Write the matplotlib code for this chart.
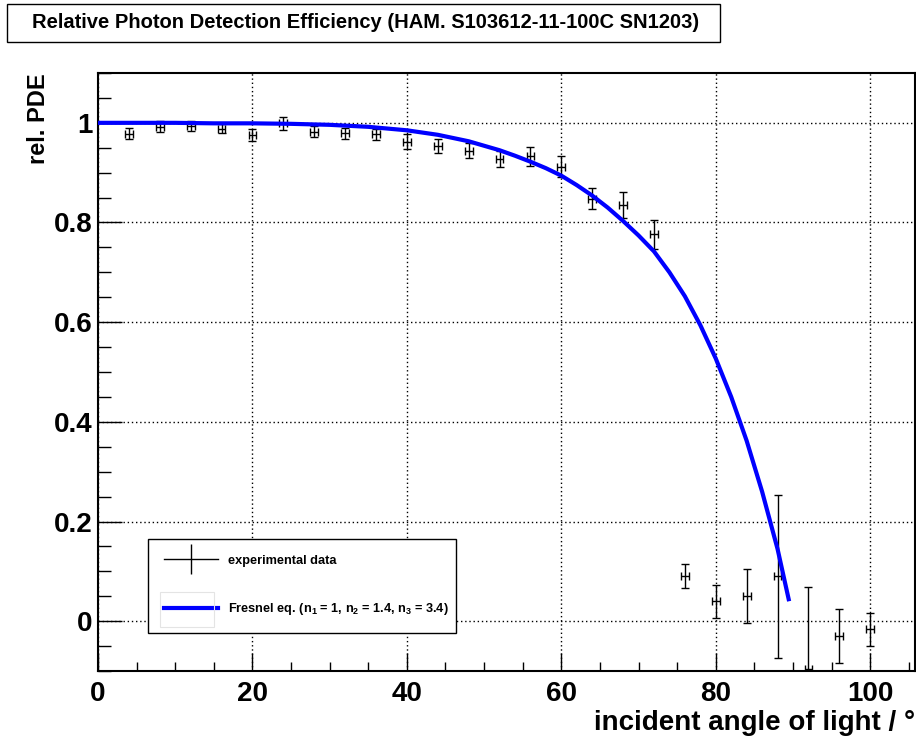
import matplotlib
matplotlib.use("Agg")
import matplotlib.pyplot as plt
from matplotlib.lines import Line2D
from matplotlib.patches import Rectangle
from matplotlib.ticker import MultipleLocator, FuncFormatter

plt.rcParams['font.family'] = ['Liberation Sans', 'DejaVu Sans']
plt.rcParams['font.weight'] = 'bold'
plt.rcParams['axes.labelweight'] = 'bold'
plt.rcParams['mathtext.fontset'] = 'custom'
plt.rcParams['mathtext.rm'] = 'Liberation Sans:bold'
plt.rcParams['mathtext.default'] = 'rm'

# measured points (angle in degrees, relative PDE)
angle = [4, 8, 12, 16, 20, 24, 28, 32, 36, 40, 44, 48, 52,
         56, 60, 64, 68, 72, 76, 80, 84, 88, 92, 96, 100]
pde = [0.978, 0.992, 0.993, 0.988, 0.976, 0.999, 0.982, 0.979, 0.977,
       0.962, 0.954, 0.944, 0.927, 0.933, 0.912, 0.848, 0.836, 0.776,
       0.090, 0.040, 0.050, 0.090, -0.096, -0.029, -0.016]
pde_err = [0.011, 0.011, 0.010, 0.009, 0.012, 0.013, 0.011, 0.011, 0.011,
           0.015, 0.014, 0.015, 0.016, 0.019, 0.021, 0.021, 0.026, 0.030,
           0.024, 0.033, 0.054, 0.163, 0.165, 0.054, 0.033]
angle_err = 0.5

# Fresnel curve
fit_angle = [0, 5, 10, 15, 20, 25, 30, 35, 40, 44, 48, 52, 54, 56, 58, 60,
             62, 64, 66, 68, 70, 72, 74, 76, 78, 80, 82, 84, 86, 88, 89.5]
fit_pde = [1.000, 1.000, 1.000, 0.999, 0.999, 0.998, 0.996, 0.992, 0.985,
           0.976, 0.963, 0.945, 0.934, 0.922, 0.909, 0.894, 0.875, 0.854,
           0.830, 0.803, 0.774, 0.742, 0.700, 0.652, 0.594, 0.527, 0.450,
           0.362, 0.260, 0.145, 0.040]

W, H = 916, 737
fig = plt.figure(figsize=(W / 100, H / 100), dpi=100)
ax = fig.add_axes([98 / W, 1 - 671 / H, (915 - 98) / W, (671 - 73) / H])

ax.errorbar(angle, pde, yerr=pde_err, xerr=angle_err, fmt='none',
            ecolor='black', elinewidth=1, capsize=2.8, capthick=1, zorder=3)
ax.plot(fit_angle, fit_pde, color='#0000ff', lw=3, solid_capstyle='butt',
        solid_joinstyle='round', zorder=4)

ax.set_xlim(0, 105.8)
ax.set_ylim(-0.1, 1.1)
ax.xaxis.set_major_locator(MultipleLocator(20))
ax.xaxis.set_minor_locator(MultipleLocator(5))
ax.yaxis.set_major_locator(MultipleLocator(0.2))
ax.yaxis.set_minor_locator(MultipleLocator(0.05))
ax.yaxis.set_major_formatter(FuncFormatter(lambda v, p: '%g' % round(v, 2)))
ax.tick_params(which='both', direction='in', labelsize=20, width=1)
ax.tick_params(axis='x', which='major', length=13, pad=7)
ax.tick_params(axis='x', which='minor', length=6.5)
ax.tick_params(axis='y', which='major', length=17, pad=4)
ax.tick_params(axis='y', which='minor', length=9)
for s in ax.spines.values():
    s.set_linewidth(1.5)
ax.grid(True, which='major', color='black', linestyle=(0, (1, 2)), lw=1)

ax.set_xlabel('incident angle of light / \u00b0', fontsize=20, loc='right', labelpad=2)
ax.set_ylabel('rel. PDE', fontsize=17, loc='top', labelpad=3)

handles = [Line2D([], [], color='black', lw=1, marker='|', markersize=22,
                  markeredgewidth=1),
           Line2D([], [], color='#0000ff', lw=3)]
labels = ['experimental data',
          'Fresnel eq. (n$_1$ = 1, n$_2$ = 1.4, n$_3$ = 3.4)']
leg = ax.legend(handles, labels, loc='lower left', mode='expand',
                bbox_to_anchor=(0.0612, 0.063, 0.377, 0.16),
                fontsize=9.2, handlelength=4.2, handletextpad=0.8,
                labelspacing=2.7, borderpad=1.25, borderaxespad=0,
                fancybox=False, frameon=True, framealpha=1, numpoints=1)
leg.get_frame().set_edgecolor('black')
leg.get_frame().set_linewidth(1)

# faint box behind the line sample
fig.add_artist(Rectangle((160 / W, 1 - 627 / H), 54 / W, 35 / H,
                         transform=fig.transFigure, fill=False,
                         edgecolor='#e4e4e4', lw=0.8, zorder=10))

# title box
fig.add_artist(Rectangle((7 / W, 1 - 42 / H), 713 / W, 38 / H,
                         transform=fig.transFigure, fill=False,
                         edgecolor='black', lw=1))
fig.text(366 / W, 1 - 23 / H,
         'Relative Photon Detection Efficiency (HAM. S103612-11-100C SN1203)',
         ha='center', va='center', fontsize=14.5, fontweight='bold')

fig.savefig('out.png', dpi=100)
